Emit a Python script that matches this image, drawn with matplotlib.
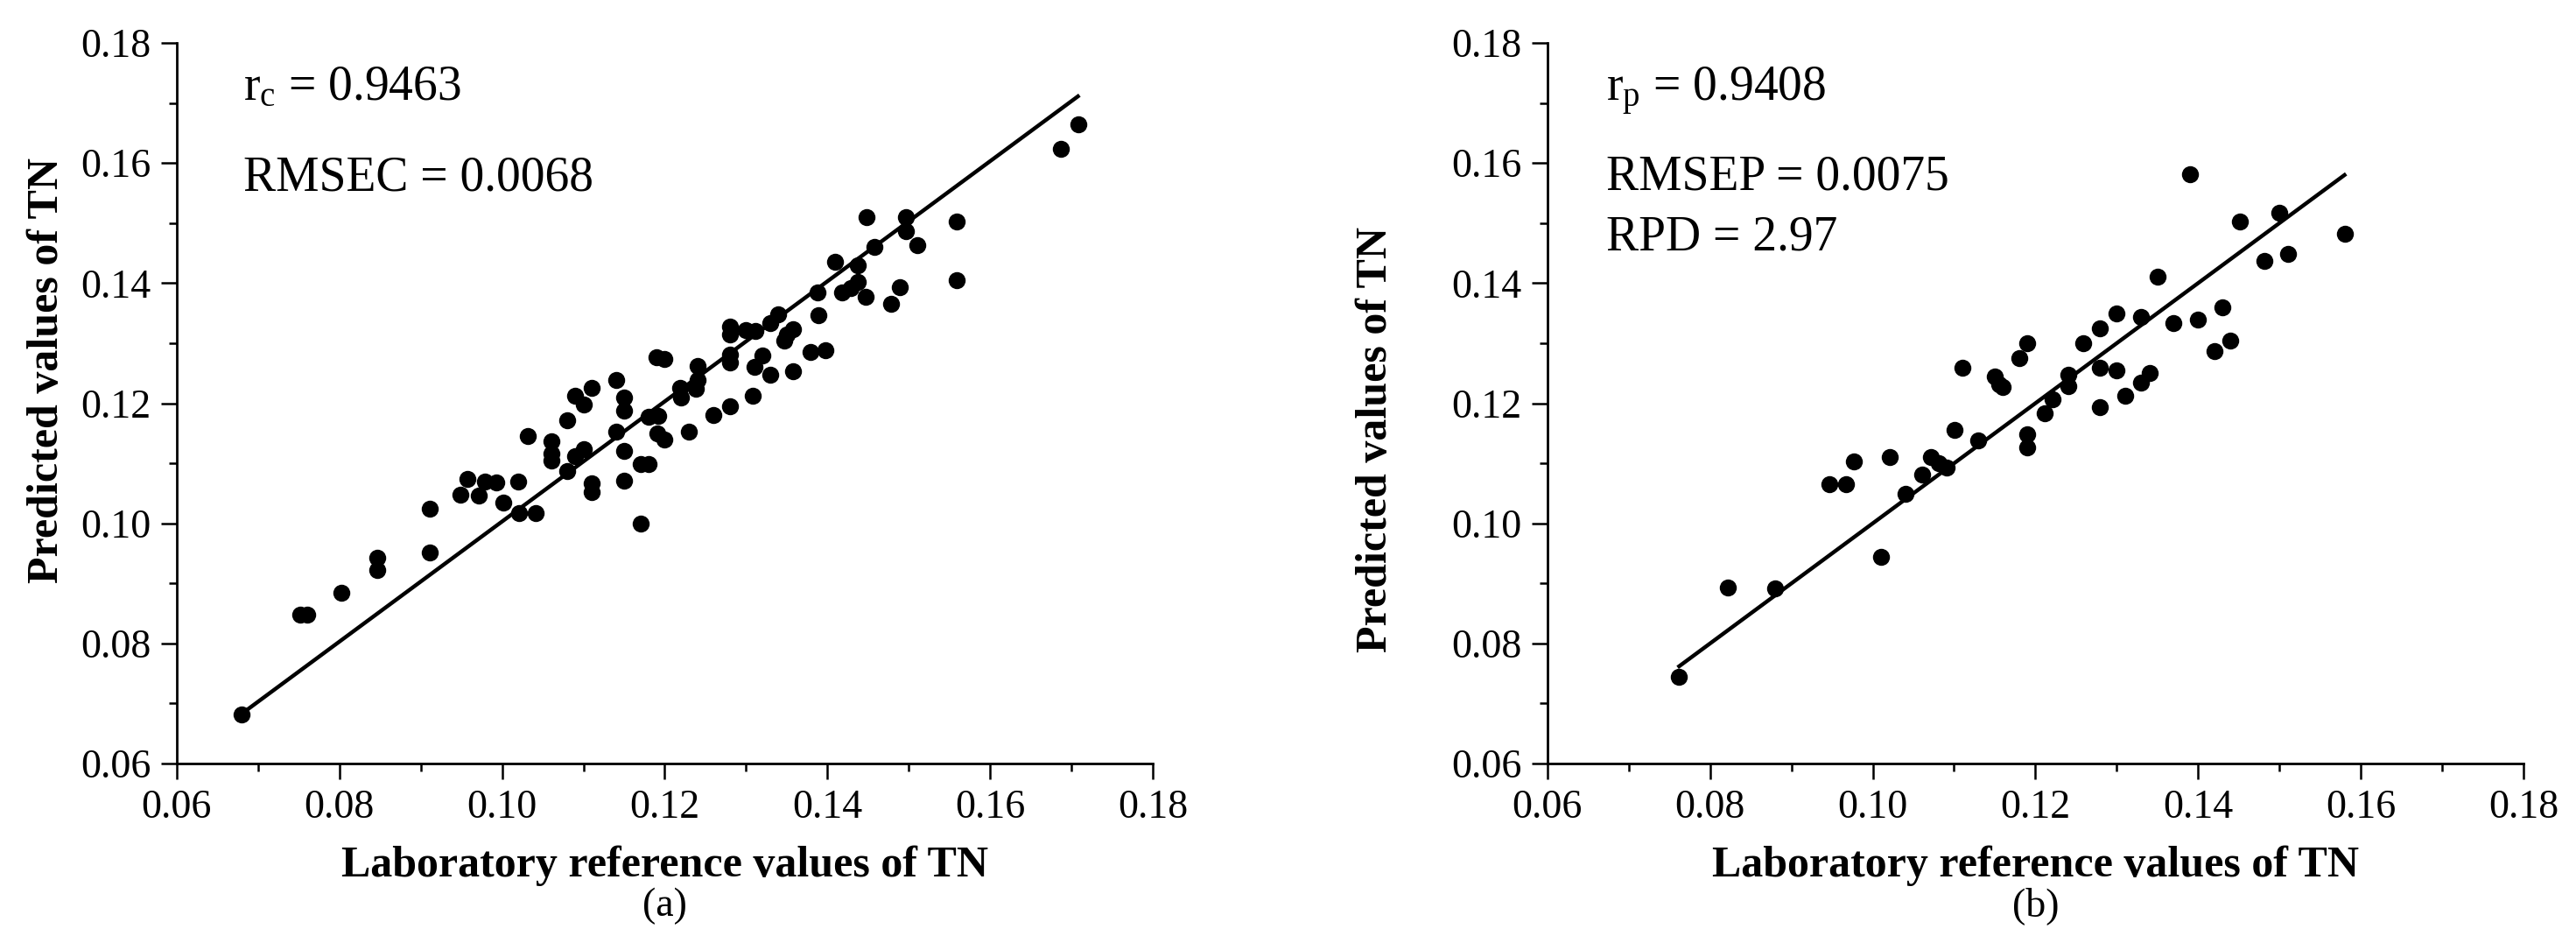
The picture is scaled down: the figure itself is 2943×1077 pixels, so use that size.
import matplotlib
matplotlib.use("Agg")
import matplotlib.pyplot as plt
import numpy as np

# calibration set (a): laboratory reference vs predicted TN
cal_ref = [0.0680, 0.0752, 0.0760, 0.0802, 0.0847, 0.0847, 0.0911, 0.0911, 0.0949, 0.0957,
           0.0971, 0.0979, 0.0993, 0.1001, 0.1020, 0.1021, 0.1032, 0.1041, 0.1061, 0.1061,
           0.1061, 0.1080, 0.1080, 0.1090, 0.1100, 0.1110, 0.1090, 0.1100, 0.1110, 0.1110,
           0.1140, 0.1150, 0.1150, 0.1140, 0.1150, 0.1150, 0.1171, 0.1170, 0.1180, 0.1190,
           0.1200, 0.1180, 0.1192, 0.1191, 0.1200, 0.1230, 0.1219, 0.1220, 0.1240, 0.1240,
           0.1238, 0.1260, 0.1280, 0.1280, 0.1280, 0.1280, 0.1280, 0.1300, 0.1311, 0.1310,
           0.1308, 0.1320, 0.1330, 0.1330, 0.1339, 0.1347, 0.1350, 0.1358, 0.1358, 0.1379,
           0.1398, 0.1389, 0.1388, 0.1418, 0.1429, 0.1437, 0.1437, 0.1409, 0.1447, 0.1448,
           0.1458, 0.1478, 0.1489, 0.1497, 0.1497, 0.1510, 0.1559, 0.1559, 0.1687, 0.1708]
cal_pred = [0.0682, 0.0848, 0.0848, 0.0885, 0.0942, 0.0923, 0.1025, 0.0952, 0.1048, 0.1074,
            0.1046, 0.1070, 0.1068, 0.1034, 0.1069, 0.1017, 0.1145, 0.1017, 0.1137, 0.1116,
            0.1105, 0.1171, 0.1087, 0.1212, 0.1198, 0.1225, 0.1112, 0.1123, 0.1066, 0.1052,
            0.1238, 0.1210, 0.1187, 0.1152, 0.1121, 0.1071, 0.1000, 0.1098, 0.1098, 0.1277,
            0.1274, 0.1177, 0.1179, 0.1150, 0.1140, 0.1152, 0.1226, 0.1210, 0.1262, 0.1238,
            0.1224, 0.1181, 0.1195, 0.1327, 0.1315, 0.1281, 0.1268, 0.1322, 0.1320, 0.1260,
            0.1212, 0.1279, 0.1248, 0.1334, 0.1348, 0.1304, 0.1315, 0.1323, 0.1253, 0.1286,
            0.1288, 0.1347, 0.1385, 0.1384, 0.1392, 0.1402, 0.1430, 0.1435, 0.1377, 0.1510,
            0.1460, 0.1366, 0.1393, 0.1510, 0.1487, 0.1463, 0.1502, 0.1405, 0.1623, 0.1665]

# prediction set (b)
val_ref = [0.0762, 0.0822, 0.0880, 0.0947, 0.0967, 0.0977, 0.1010, 0.1021, 0.1040, 0.1061,
           0.1071, 0.1081, 0.1091, 0.1101, 0.1110, 0.1130, 0.1150, 0.1155, 0.1160, 0.1180,
           0.1190, 0.1190, 0.1190, 0.1211, 0.1221, 0.1240, 0.1240, 0.1259, 0.1279, 0.1279,
           0.1279, 0.1300, 0.1300, 0.1310, 0.1330, 0.1330, 0.1340, 0.1350, 0.1370, 0.1390,
           0.1400, 0.1420, 0.1430, 0.1440, 0.1451, 0.1481, 0.1500, 0.1511, 0.1580]
val_pred = [0.0745, 0.0893, 0.0891, 0.1065, 0.1065, 0.1103, 0.0944, 0.1111, 0.1049, 0.1081,
            0.1111, 0.1100, 0.1093, 0.1156, 0.1259, 0.1138, 0.1245, 0.1232, 0.1227, 0.1275,
            0.1300, 0.1149, 0.1126, 0.1183, 0.1207, 0.1247, 0.1229, 0.1300, 0.1324, 0.1259,
            0.1193, 0.1350, 0.1255, 0.1212, 0.1344, 0.1234, 0.1250, 0.1410, 0.1334, 0.1582,
            0.1340, 0.1287, 0.1359, 0.1305, 0.1502, 0.1437, 0.1517, 0.1449, 0.1482]

# regression lines (slope, intercept)
cal_fit = (1.0, 0.0003)
val_fit = (1.0, 0.0)

cal_stats = [r"$\mathregular{r_c}$ = 0.9463", "RMSEC = 0.0068"]
val_stats = [r"$\mathregular{r_p}$ = 0.9408", "RMSEP = 0.0075", "RPD = 2.97"]

ticks = [0.06, 0.08, 0.10, 0.12, 0.14, 0.16, 0.18]
tick_labels = ["0.06", "0.08", "0.10", "0.12", "0.14", "0.16", "0.18"]

plt.rcParams["font.family"] = ["Liberation Serif", "DejaVu Serif"]
plt.rcParams["mathtext.fontset"] = "custom"
plt.rcParams["mathtext.rm"] = "Liberation Serif"


def draw_panel(ax, ref, pred, fit, stats, stat_x, stat_y, tag, ylab_pos):
    ax.plot(ref, pred, "o", color="black", ms=14, mew=0, zorder=3)
    xs = np.array([min(ref), max(ref)])
    ax.plot(xs, fit[0] * xs + fit[1], color="black", lw=3.2, zorder=2)

    ax.set_xlim(0.06, 0.18)
    ax.set_ylim(0.06, 0.18)
    ax.set_xticks(ticks)
    ax.set_xticklabels(tick_labels)
    ax.set_yticks(ticks)
    ax.set_yticklabels(tick_labels)
    ax.set_xticks(np.arange(0.07, 0.18, 0.02), minor=True)
    ax.set_yticks(np.arange(0.07, 0.18, 0.02), minor=True)
    ax.tick_params(which="major", direction="out", length=13, width=1.8,
                   labelsize=33, pad=8)
    ax.tick_params(which="minor", direction="out", length=6.5, width=1.8)
    for side in ["top", "right"]:
        ax.spines[side].set_visible(False)
    for side in ["left", "bottom"]:
        ax.spines[side].set_linewidth(2.0)

    ax.text(0.5, -0.157, "Laboratory reference values of TN", transform=ax.transAxes,
            ha="center", va="baseline", fontsize=36, fontweight="bold")
    ax.text(0.5, -0.198, tag, transform=ax.transAxes, ha="center", va="center", fontsize=33)
    ax.text(ylab_pos[0], ylab_pos[1], "Predicted values of TN", transform=ax.transAxes,
            rotation=90, ha="center", va="center", fontsize=36, fontweight="bold")

    for s, yy in zip(stats, stat_y):
        ax.text(stat_x, yy, s, transform=ax.transAxes, ha="left", va="baseline", fontsize=40)


fig = plt.figure(figsize=(29.43, 10.77), dpi=100)
ax1 = fig.add_axes([0.0686, 0.1903, 0.3789, 0.7642])
ax2 = fig.add_axes([0.6007, 0.1903, 0.3789, 0.7642])

draw_panel(ax1, cal_ref, cal_pred, cal_fit, cal_stats, 0.068, [0.921, 0.795], "(a)",
           (-0.133, 0.546))
draw_panel(ax2, val_ref, val_pred, val_fit, val_stats, 0.060, [0.919, 0.796, 0.713], "(b)",
           (-0.176, 0.45))

fig.savefig("out.png", dpi=100, facecolor="white")
